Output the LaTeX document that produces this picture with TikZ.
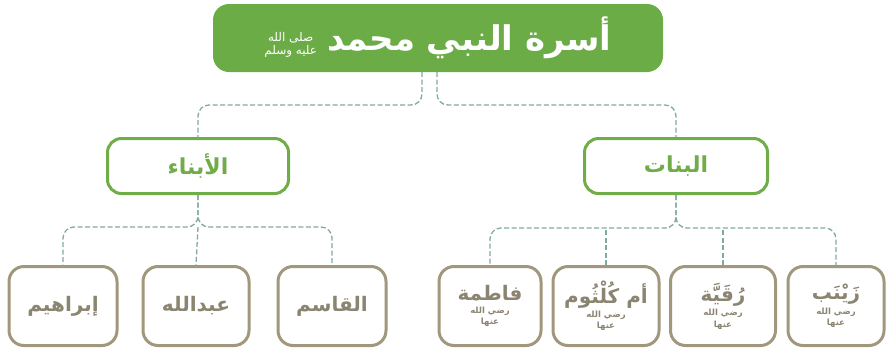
\documentclass[tikz,border=0pt]{standalone}
\usepackage{fontspec}
\TeXXeTstate=1
\newfontfamily\arabicfont[Script=Arabic]{DejaVu Sans}
\definecolor{topgreen}{RGB}{108,172,70}
\definecolor{midgreen}{RGB}{112,172,72}
\definecolor{tan}{RGB}{160,151,124}
\definecolor{tantext}{RGB}{138,132,112}
\definecolor{dashc}{RGB}{128,170,160}
\newcommand{\honorific}{{\arabicfont\bfseries\fontsize{8.5}{9}\selectfont\shortstack{\beginR رضي الله\endR\\\beginR عنها\endR}}}
\begin{document}
\begin{tikzpicture}[x=1pt,y=-1pt,
  topbox/.style={fill=topgreen,draw=none,rounded corners=16pt,minimum width=450pt,minimum height=68pt,font=\arabicfont\bfseries\fontsize{34}{36}\selectfont,text=white},
  midbox/.style={draw=midgreen,line width=3pt,fill=white,rounded corners=14pt,minimum height=55pt,font=\arabicfont\bfseries\fontsize{22}{24}\selectfont,text=midgreen},
  kidbox/.style={draw=tan,line width=3pt,fill=white,rounded corners=15pt,minimum height=79pt,minimum width=106pt,font=\arabicfont\bfseries\fontsize{20}{22}\selectfont,text=tantext,align=center},
  conn/.style={draw=dashc,line width=1.3pt,dash pattern=on 5pt off 2.5pt,rounded corners=11pt}
]
\useasboundingbox (0,0) rectangle (888,349);
\node[topbox] (top) at (438,38) {\beginR أسرة النبي محمد\hspace{10pt}\raisebox{-4pt}{\fontsize{12}{12}\selectfont\mdseries\shortstack{\beginR صلى الله\endR\\\beginR عليه وسلم\endR}}\endR};
\node[midbox,minimum width=181pt] (sons) at (198,166) {\beginR الأبناء\endR};
\node[midbox,minimum width=183pt] (daus) at (676,166) {\beginR البنات\endR};
% sons children
\node[kidbox,minimum width=108pt] (ibr) at (63,306) {\beginR إبراهيم\endR};
\node[kidbox] (abd) at (196,306) {\beginR عبدالله\endR};
\node[kidbox,minimum width=108pt] (qas) at (332,306) {\beginR القاسم\endR};
% daughters children
\node[kidbox,minimum width=102pt] (fat) at (490,306) {\beginR فاطمة\endR\\[2pt]\honorific};
\node[kidbox] (kul) at (606,306) {\beginR أم كُلْثُوم\endR\\[2pt]\honorific};
\node[kidbox,minimum width=105pt] (ruq) at (723,306) {\beginR رُقَيَّة\endR\\[2pt]\honorific};
\node[kidbox,minimum width=96pt] (zay) at (836,306) {\beginR زَيْنَب\endR\\[2pt]\honorific};
% top connectors
\coordinate (tl) at (422,72);
\coordinate (tr) at (437,72);
\coordinate (sj) at (198,227);
\coordinate (dj) at (676,228);
\draw[conn] (tl) -- (422,105) -| (sons.north);
\draw[conn] (tr) -- (437,105) -| (daus.north);
% sons fork
\draw[conn] (sons.south) -- (sj) -| (ibr.north);
\draw[conn] (sons.south) -- (sj) -| (qas.north);
\draw[conn,rounded corners=0pt] (sj) -- (abd.north);
% daughters fork
\draw[conn] (daus.south) -- (dj) -| (fat.north);
\draw[conn] (daus.south) -- (dj) -| (zay.north);
\draw[conn,rounded corners=0pt] (kul.north) -- (kul.north |- dj);
\draw[conn,rounded corners=0pt] (ruq.north) -- (ruq.north |- dj);
\end{tikzpicture}
\end{document}
